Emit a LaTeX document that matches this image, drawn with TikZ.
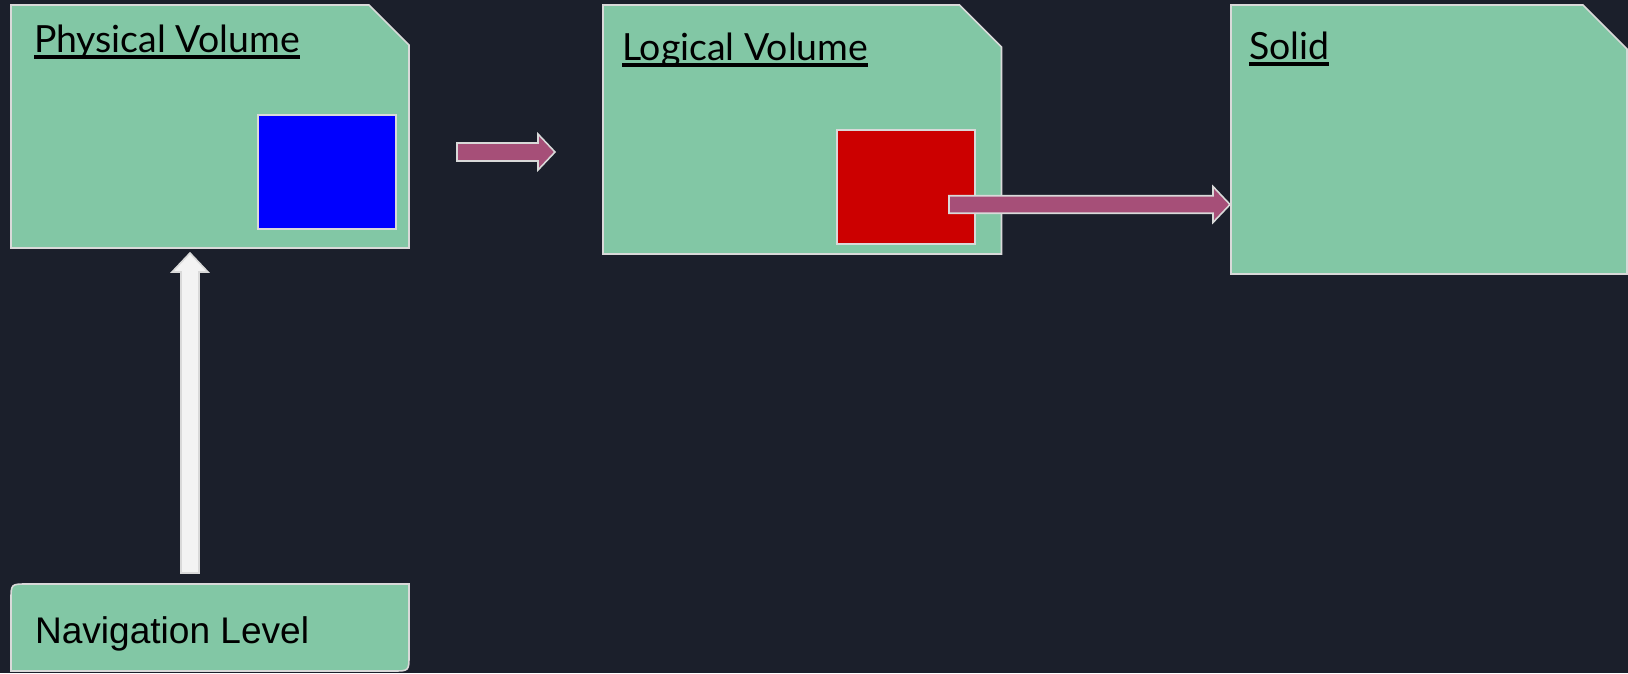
\documentclass[tikz,border=0pt]{standalone}
\usepackage{fontspec}
\setmainfont{Lato}
\newfontfamily\navfont{Liberation Sans}
\newcommand\ulx[1]{\setbox0\hbox{#1}\rlap{\rule[-3.9pt]{\wd0}{2.2pt}}\box0}
\usetikzlibrary{calc}
\definecolor{bg}{HTML}{1B1F2B}
\definecolor{panel}{HTML}{82C7A5}
\definecolor{edge}{HTML}{D9D9D9}
\definecolor{pinkarrow}{HTML}{A64F78}
\definecolor{whitearrow}{HTML}{F3F3F3}
\definecolor{bluesq}{HTML}{0000FF}
\definecolor{redsq}{HTML}{CC0000}
\def\px{0.02cm}
\newcommand\chamferpanel[2]{%
  \draw[panelpath] (#1.south west) -- (#1.north west) -- ($(#1.north east)+(-#2,0)$)
    -- ($(#1.north east)+(0,#2)$) -- (#1.south east) -- cycle;}
\begin{document}
\begin{tikzpicture}[x=0.02cm,y=-0.02cm,
  slot/.style={rectangle, draw=none, fill=none, inner sep=0pt, outer sep=0pt},
  panelpath/.style={fill=panel, draw=edge, line width=0.9pt},
  square/.style={rectangle, draw=edge, line width=0.9pt, inner sep=0pt, outer sep=0pt},
  title/.style={anchor=base west, inner sep=0pt, outer sep=0pt, text=black, font=\fontsize{21.3}{25}\selectfont},
  navtext/.style={anchor=base west, inner sep=0pt, outer sep=0pt, text=black, font=\navfont\fontsize{21.1}{25}\selectfont},
  pinkblock/.style={fill=pinkarrow, draw=edge, line width=0.9pt, line join=miter},
  whiteblock/.style={fill=whitearrow, draw=edge, line width=0.9pt, line join=miter}]
\useasboundingbox (0,0) rectangle (1628,673);
\fill[bg] (0,0) rectangle (1628,673);

% panels
\node[slot, minimum width=398*\px, minimum height=243*\px] (pv) at (210,126.5) {};
\chamferpanel{pv}{40}
\node[slot, minimum width=398.5*\px, minimum height=249*\px] (lv) at (802.25,129.5) {};
\chamferpanel{lv}{42}
\node[slot, minimum width=396*\px, minimum height=269*\px] (so) at (1429,139.5) {};
\chamferpanel{so}{44}

% navigation level
\node[slot, minimum width=398*\px, minimum height=87*\px] (nav) at (210,627.5) {};
\draw[panelpath] (nav.south west) -- ($(nav.north west)+(0,16)$) .. controls (nav.north west) .. ($(nav.north west)+(16,0)$)
  -- (nav.north east) -- ($(nav.south east)+(0,-16)$) .. controls (nav.south east) .. ($(nav.south east)+(-16,0)$) -- cycle;

% inner squares
\node[square, fill=bluesq, minimum width=138*\px, minimum height=114*\px] (blue) at (327,172) {};
\node[square, fill=redsq, minimum width=138*\px, minimum height=114*\px] (red) at (906,187) {};

% titles
\node[title] (pvt) at (34,52.5) {\ulx{Physical Volume}};
\node[title] (lvt) at (622,60.5) {\ulx{Logical Volume}};
\node[title] (sot) at (1249,59) {\ulx{Solid}};
\node[navtext] (navt) at (35,643) {Navigation Level};

% block arrows
\coordinate (a1s) at (457,152);
\coordinate (a1e) at (555,152);
\draw[pinkblock] ($(a1s)+(0,-9)$) -- ($(a1e)+(-17,-9)$) -- ($(a1e)+(-17,-18)$) -- (a1e)
  -- ($(a1e)+(-17,18)$) -- ($(a1e)+(-17,9)$) -- ($(a1s)+(0,9)$) -- cycle;

\coordinate (a2s) at (949,204.5);
\coordinate (a2e) at (1230,204.5);
\draw[pinkblock] ($(a2s)+(0,-8.75)$) -- ($(a2e)+(-17,-8.75)$) -- ($(a2e)+(-17,-18)$) -- (a2e)
  -- ($(a2e)+(-17,18)$) -- ($(a2e)+(-17,8.75)$) -- ($(a2s)+(0,8.75)$) -- cycle;

\coordinate (a3s) at (190,573);
\coordinate (a3e) at (190,253);
\draw[whiteblock] ($(a3s)+(-9,0)$) -- ($(a3e)+(-9,19)$) -- ($(a3e)+(-18,19)$) -- (a3e)
  -- ($(a3e)+(18,19)$) -- ($(a3e)+(9,19)$) -- ($(a3s)+(9,0)$) -- cycle;
\end{tikzpicture}
\end{document}
